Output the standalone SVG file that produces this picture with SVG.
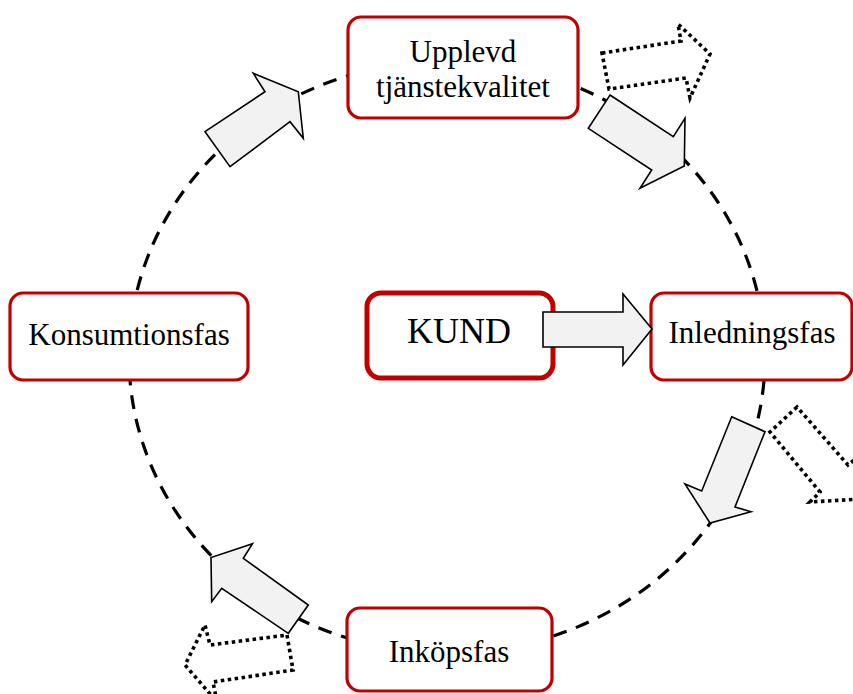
<svg xmlns="http://www.w3.org/2000/svg" width="853" height="694" viewBox="0 0 853 694">
  <defs>
    <style>
      .cycle { fill: none; stroke: #000; stroke-width: 3.2; stroke-dasharray: 14 10; }
      .phase rect { fill: #fff; stroke: #c00000; stroke-width: 3.2; }
      .core rect { fill: #fff; stroke: #c00000; stroke-width: 5; }
      .label { font-family: "Liberation Serif", "Times New Roman", serif; font-size: 31px; fill: #000; text-anchor: middle; }
      .flow { fill: #f2f2f2; stroke: #000; stroke-width: 1.6; stroke-linejoin: miter; }
      .ghost { fill: none; stroke: #000; stroke-width: 3.6; stroke-dasharray: 3.5 3.5; }
    </style>
  </defs>

  <rect width="853" height="694" fill="#fff"/>

  <!-- dashed cycle, drawn beneath the boxes -->
  <g id="cycle">
    <ellipse class="cycle" cx="447" cy="357" rx="318" ry="296"/>
  </g>

  <g id="node-upplevd" class="phase">
    <rect x="348" y="17" width="230" height="101" rx="13"/>
    <text class="label" x="463" y="62">Upplevd</text>
    <text class="label" x="463" y="97">tjänstekvalitet</text>
  </g>

  <g id="node-konsumtionsfas" class="phase">
    <rect x="10" y="293" width="238" height="87" rx="13"/>
    <text class="label" x="129" y="345">Konsumtionsfas</text>
  </g>

  <g id="node-kund" class="core">
    <rect x="367" y="293" width="186" height="85" rx="14"/>
    <text class="label" x="459" y="343" style="font-size:36px">KUND</text>
  </g>

  <g id="node-inledningsfas" class="phase">
    <rect x="651" y="293" width="201" height="87" rx="13"/>
    <text class="label" x="752" y="343">Inledningsfas</text>
  </g>

  <g id="node-inkopsfas" class="phase">
    <rect x="347" y="608" width="205" height="83" rx="13"/>
    <text class="label" x="449" y="662">Inköpsfas</text>
  </g>

  <!-- block arrows, on top of the cycle and boxes -->
  <g id="connectors">
    <polygon class="flow" points="205,131.7 265,91.7 253.3,73.3 298.3,91.7 303.3,138.3 290,121.7 230,166.7"/>
    <polygon class="flow" points="610,95 673.3,136.7 685,118.3 684.3,166 640,188.3 651.7,170 588.3,128.3"/>
    <polygon class="flow" points="731.7,416.7 765,431.7 735,507 751,511.7 710,523 685,484 701.7,491"/>
    <polygon class="flow" points="308.3,605 288.3,633.3 221.7,588.3 211.7,601.7 211,557.5 252.5,543.7 243.3,558.3"/>
    <polygon class="flow" points="543,312 623,312 623,294 652,329 623,365 623,347 543,347"/>

    <polygon class="ghost" points="602,53 681,41 678,24 710,54 690,98 686,78 609,89"/>
    <polygon class="ghost" points="797,407 770,432 820,492 810,502 862,499 859,456 848,465"/>
    <polygon class="ghost" points="287,635 293,670 213,682 217,702 185,665 205,625 210,645"/>
  </g>
</svg>
